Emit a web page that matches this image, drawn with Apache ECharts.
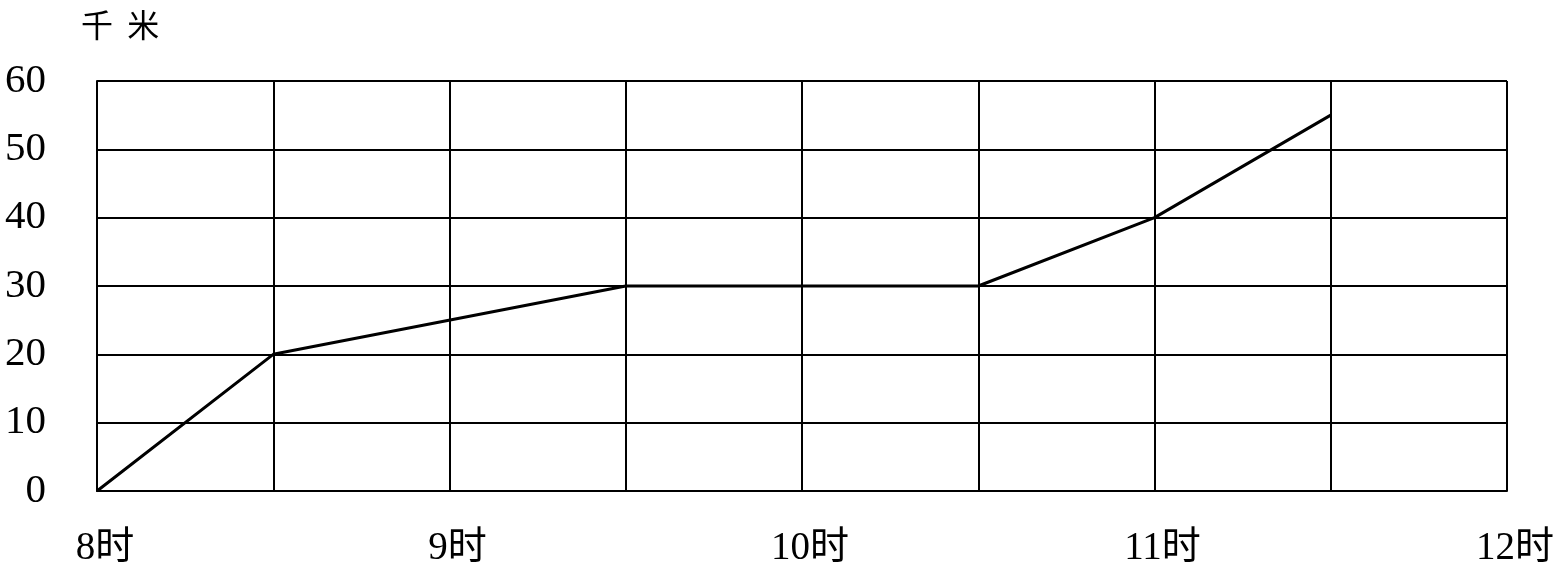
<!DOCTYPE html>
<html>
<head>
<meta charset="utf-8">
<script src="https://cdn.jsdelivr.net/npm/echarts@6/dist/echarts.min.js"></script>
<style>html,body{margin:0;padding:0;background:#fff;}#c{width:1560px;height:583px;}</style>
</head>
<body>
<div id="c"></div>
<script>
const hours = [8, 8.5, 9.5, 10.5, 11, 11.5];
const distanceKm = [0, 20, 30, 30, 40, 55];
const unitLabel = '千  米';
const hourSuffix = '时';

const chart = echarts.init(document.getElementById('c'));
chart.setOption({
  animation: false,
  backgroundColor: '#fff',
  title: {
    text: unitLabel,
    left: 76,
    top: 4,
    textStyle: { fontFamily: 'Noto Sans CJK SC', fontSize: 32, fontWeight: 'normal', color: '#000' }
  },
  grid: { left: 97, right: 53, top: 81, bottom: 92 },
  xAxis: {
    type: 'value',
    min: 8, max: 12, interval: 0.5,
    axisLine: { show: true, lineStyle: { color: '#000', width: 2 } },
    axisTick: { show: false },
    splitLine: { show: true, lineStyle: { color: '#000', width: 2 } },
    axisLabel: {
      show: true,
      margin: 38,
      padding: [0, 0, 0, 16],
      color: '#000',
      fontSize: 39,
      fontFamily: 'Liberation Serif, Noto Sans CJK SC',
      formatter: v => (v % 1 === 0 ? v + hourSuffix : '')
    }
  },
  yAxis: {
    type: 'value',
    min: 0, max: 60, interval: 10,
    axisLine: { show: true, lineStyle: { color: '#000', width: 2 } },
    axisTick: { show: false },
    splitLine: { show: true, lineStyle: { color: '#000', width: 2 } },
    axisLabel: { margin: 51, color: '#000', fontSize: 41, fontFamily: 'Liberation Serif' }
  },
  series: [{
    type: 'line',
    data: hours.map((h, i) => [h, distanceKm[i]]),
    symbol: 'none',
    lineStyle: { color: '#000', width: 3 }
  }]
});
</script>
</body>
</html>
